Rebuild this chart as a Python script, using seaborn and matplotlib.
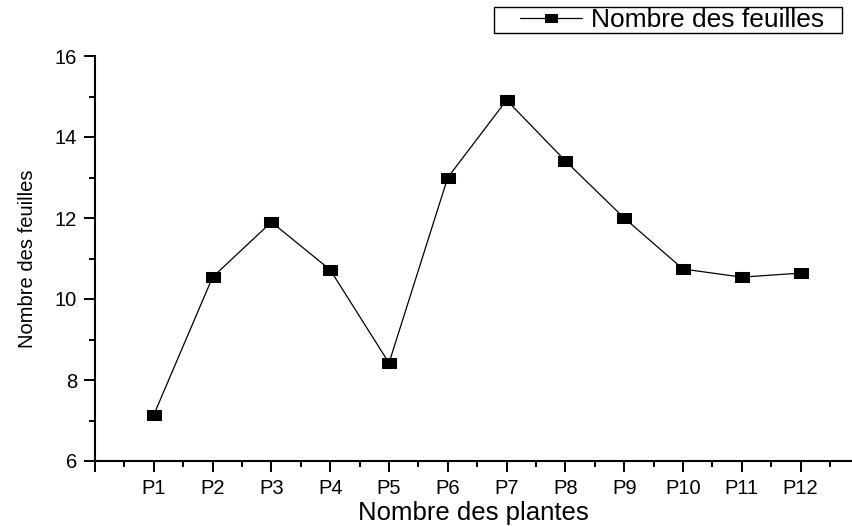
import matplotlib
matplotlib.use("Agg")
import matplotlib.pyplot as plt
from matplotlib import font_manager
from matplotlib.ticker import MultipleLocator, FixedLocator
from matplotlib.patches import Rectangle
import numpy as np
import pandas as pd
import seaborn as sns

plantes = ["P1", "P2", "P3", "P4", "P5", "P6", "P7", "P8", "P9", "P10", "P11", "P12"]
feuilles = [7.14, 10.54, 11.90, 10.72, 8.42, 13.0, 14.91, 13.41, 12.0, 10.74, 10.54, 10.64]

sns.set_style("ticks")
plt.rcParams["font.family"] = ["Liberation Sans", "DejaVu Sans"]
plt.rcParams["text.color"] = "black"
plt.rcParams["axes.labelcolor"] = "black"
plt.rcParams["axes.edgecolor"] = "black"
plt.rcParams["xtick.color"] = "black"
plt.rcParams["ytick.color"] = "black"

names = {f.name for f in font_manager.fontManager.ttflist}
narrow = "Liberation Sans Narrow" if "Liberation Sans Narrow" in names else "Liberation Sans"

df = pd.DataFrame({"pos": np.arange(1, len(plantes) + 1), "val": feuilles})

W, H = 852, 526
fig = plt.figure(figsize=(W / 100, H / 100), dpi=100)
ax = fig.add_axes([95 / W, 1 - 461 / H, 1 - 95 / W, (461 - 56) / H])

rect = [(-1, -0.7), (1, -0.7), (1, 0.7), (-1, 0.7), (-1, -0.7)]
sns.lineplot(data=df, x="pos", y="val", ax=ax, color="black", linewidth=0.9,
             marker=rect, markersize=9.6, markeredgecolor="black",
             markerfacecolor="black", label="Nombre des feuilles", legend=False)

ax.set_xlim(0, 757 / 58.8)
ax.set_ylim(6, 16)
ax.xaxis.set_major_locator(FixedLocator(np.arange(0, len(plantes) + 1)))
ax.set_xticklabels([""] + plantes)
ax.xaxis.set_minor_locator(FixedLocator(np.arange(0.5, len(plantes) + 1, 1.0)))
ax.yaxis.set_major_locator(MultipleLocator(2))
ax.yaxis.set_minor_locator(MultipleLocator(1))

for s in ["top", "right"]:
    ax.spines[s].set_visible(False)
for s in ["left", "bottom"]:
    ax.spines[s].set_linewidth(1.5)
ax.tick_params(which="major", direction="out", length=8, width=1.4, labelsize=14.5,
               colors="black", pad=5)
ax.tick_params(which="minor", direction="out", length=4, width=1.4)

ax.set_xlabel("Nombre des plantes", fontsize=18.5, labelpad=2)
ax.set_ylabel("Nombre des feuilles", fontsize=14.5, family=narrow, labelpad=13)

handles, labels = ax.get_legend_handles_labels()
leg = fig.legend(handles, labels, loc="center right",
                 bbox_to_anchor=(824 / W, 1 - 20 / H), fontsize=19,
                 frameon=False, borderpad=0, handlelength=2.35,
                 handletextpad=0.35, borderaxespad=0, markerscale=0.85)
fig.patches.append(Rectangle((494 / W, 1 - 33 / H), (842 - 494) / W, 26 / H,
                             transform=fig.transFigure, fill=False,
                             edgecolor="black", linewidth=1.0))

fig.savefig("out.png", dpi=100)
